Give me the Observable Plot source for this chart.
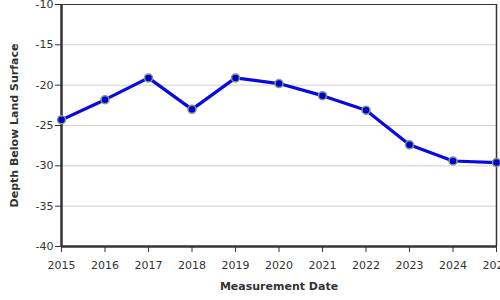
<!DOCTYPE html>
<html>
<head>
<meta charset="utf-8">
<script src="https://cdn.jsdelivr.net/npm/d3@7"></script>
<script src="https://cdn.jsdelivr.net/npm/@observablehq/plot@0.6"></script>
<style>
  html, body { margin: 0; padding: 0; background: #fff; }
  #chart { width: 500px; height: 300px; overflow: hidden; }
</style>
</head>
<body>
<div id="chart"></div>
<script>
const years = [2015, 2016, 2017, 2018, 2019, 2020, 2021, 2022, 2023, 2024, 2025];
const depths = [-24.3, -21.8, -19.1, -23.0, -19.1, -19.8, -21.3, -23.1, -27.4, -29.4, -29.6];
const yTicks = [-40, -35, -30, -25, -20, -15, -10];
const xLabel = "Measurement Date";
const yLabel = "Depth Below Land Surface";

const data = years.map((y, i) => ({year: y, depth: depths[i]}));

const chart = Plot.plot({
  width: 500,
  height: 300,
  marginLeft: 61,
  marginRight: 4,
  marginTop: 4,
  marginBottom: 54,
  style: {fontFamily: "DejaVu Sans", fontSize: "11px", color: "#333", background: "#fff", overflow: "visible"},
  x: {domain: [2015, 2025], ticks: years, tickFormat: d => String(d)},
  y: {domain: [-40, -10], ticks: yTicks},
  marks: [
    Plot.gridY(yTicks, {stroke: "#d0d0d0", strokeOpacity: 1}),
    Plot.ruleY([-10], {stroke: "#333", strokeWidth: 1}),
    Plot.ruleX([2025], {stroke: "#333", strokeWidth: 1.5}),
    Plot.axisY({ticks: yTicks, tickSize: 6, tickPadding: 2, label: null, tickFormat: d => String(d), stroke: "#333", fill: "#333", fontSize: 11}),
    Plot.axisX({ticks: years, tickSize: 6, tickPadding: 9, label: null, tickFormat: d => String(d), stroke: "#333", fill: "#333", fontSize: 11}),
    Plot.ruleX([2015], {stroke: "#333", strokeWidth: 2.5}),
    Plot.ruleY([-40], {stroke: "#333", strokeWidth: 2.5}),
    Plot.line(data, {x: "year", y: "depth", stroke: "#0a0ae0", strokeWidth: 3.2}),
    Plot.dot(data, {x: "year", y: "depth", r: 4, fill: "#0000c8", stroke: "#7f9a8c", strokeWidth: 1.5}),
    Plot.text([yLabel], {frameAnchor: "left", dx: -47, rotate: -90, textAnchor: "middle", fontWeight: "bold", fontSize: 11, fill: "#333"}),
    Plot.text([xLabel], {frameAnchor: "bottom", dy: 43, textAnchor: "middle", fontWeight: "bold", fontSize: 11, fill: "#333"})
  ]
});
document.getElementById("chart").appendChild(chart);
</script>
</body>
</html>
